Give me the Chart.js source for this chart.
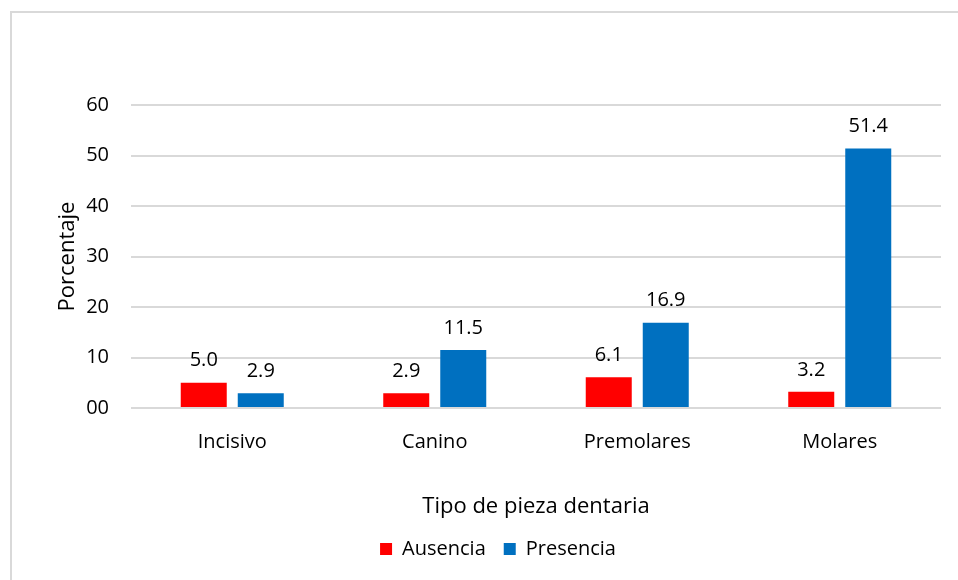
<!DOCTYPE html>
<html lang="es">
<head>
<meta charset="UTF-8">
<title>Tipo de pieza dentaria</title>
<script src="https://cdn.jsdelivr.net/npm/chart.js"></script>
<style>
    html, body { margin: 0; padding: 0; background: #fff; overflow: hidden; }
    #wrap { position: relative; width: 958px; height: 580px; }
    #frame { position: absolute; left: 10px; top: 11px; width: 1000px; height: 700px;
             border-left: 2px solid #d9d9d9; border-top: 2px solid #d9d9d9; }
    #chart { position: absolute; left: 0; top: 0; }
</style>
</head>
<body>
<div id="wrap">
    <div id="frame"></div>
    <canvas id="chart" width="958" height="580"></canvas>
</div>
<script>
// datos
const categorias = ['Incisivo', 'Canino', 'Premolares', 'Molares'];
const ausencia = [5.0, 2.9, 6.1, 3.2];
const presencia = [2.9, 11.5, 16.9, 51.4];
const yTicks = [0, 10, 20, 30, 40, 50, 60];

const FONT = "'Open Sans', sans-serif";

// etiquetas encima de las barras
const valueLabels = {
    id: 'valueLabels',
    afterDatasetsDraw(chart) {
        const ctx = chart.ctx;
        ctx.save();
        ctx.font = '20px ' + FONT;
        ctx.fillStyle = '#000';
        ctx.textAlign = 'center';
        ctx.textBaseline = 'middle';
        chart.data.datasets.forEach((ds, i) => {
            chart.getDatasetMeta(i).data.forEach((bar, j) => {
                ctx.fillText(ds.data[j].toFixed(1), bar.x, bar.y - 22);
            });
        });
        ctx.restore();
    }
};

new Chart(document.getElementById('chart'), {
    type: 'bar',
    data: {
        labels: categorias,
        datasets: [
            { label: 'Ausencia', data: ausencia, backgroundColor: '#FF0000' },
            { label: 'Presencia', data: presencia, backgroundColor: '#0070C0' }
        ]
    },
    options: {
        responsive: false,
        animation: false,
        devicePixelRatio: 1,
        categoryPercentage: 0.563,
        barPercentage: 0.807,
        layout: { padding: { left: 55, top: 105, right: 17, bottom: 11 } },
        plugins: {
            tooltip: { enabled: false },
            legend: {
                position: 'bottom',
                labels: {
                    font: { family: FONT, size: 20 },
                    color: '#000',
                    boxWidth: 12,
                    boxHeight: 12,
                    padding: 18
                }
            }
        },
        scales: {
            x: {
                grid: { display: false },
                border: { display: false },
                ticks: { font: { family: FONT, size: 20 }, color: '#000', padding: 14 },
                title: {
                    display: true,
                    text: 'Tipo de pieza dentaria',
                    font: { family: FONT, size: 22 },
                    color: '#000',
                    padding: { top: 24, bottom: 1 }
                },
                afterFit(scale) { scale.height = 113; }
            },
            y: {
                min: 0,
                max: 60,
                afterBuildTicks(scale) { scale.ticks = yTicks.map(v => ({ value: v })); },
                grid: { color: '#d9d9d9', lineWidth: 2, drawTicks: false },
                border: { display: false },
                ticks: {
                    font: { family: FONT, size: 20 },
                    color: '#000',
                    padding: 22,
                    callback: v => v === 0 ? '00' : String(v)
                },
                title: {
                    display: true,
                    text: 'Porcentaje',
                    font: { family: FONT, size: 22 },
                    color: '#000',
                    padding: 0
                },
                afterFit(scale) { scale.width = 76; }
            }
        }
    },
    plugins: [valueLabels]
});
</script>
</body>
</html>
